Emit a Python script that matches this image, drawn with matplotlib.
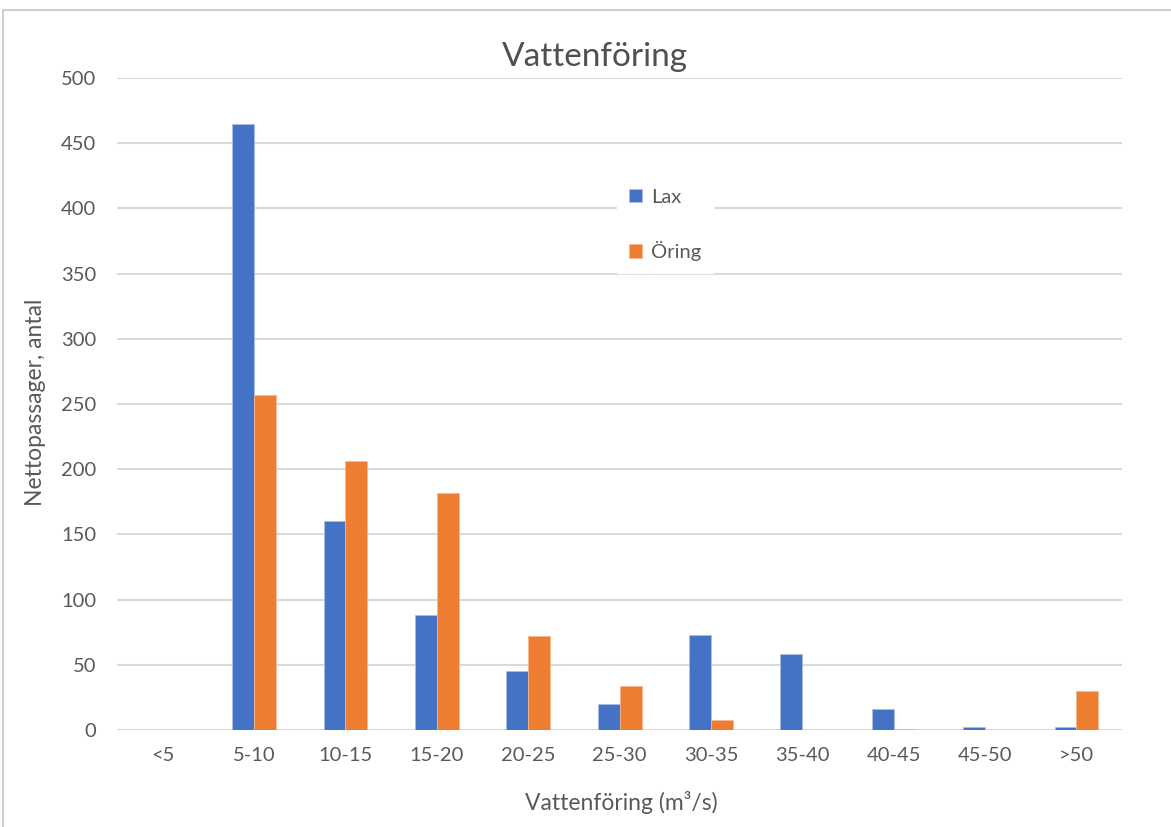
import matplotlib

matplotlib.use("Agg")

import matplotlib.pyplot as plt
import numpy as np
from matplotlib.patches import Rectangle

categories = ["<5", "5-10", "10-15", "15-20", "20-25", "25-30", "30-35", "35-40", "40-45", "45-50", ">50"]
lax = [0, 465, 160, 88, 45, 20, 73, 58, 16, 2, 2]
oring = [0, 257, 206, 182, 72, 34, 8, 0, 1, 0, 30]

BLUE = "#4472c4"
ORANGE = "#ed7d31"
GRID = "#d9d9d9"
TEXT = "#595959"

plt.rcParams["font.family"] = ["Lato", "DejaVu Sans"]

fig = plt.figure(figsize=(11.71, 8.27), dpi=100)
ax = fig.add_axes([0.0999, 0.1173, 0.8584, 0.7884])

# chart frame
fig.patches.append(Rectangle((3 / 1171, -0.01), 1.02, 1 - 10 / 827 + 0.01, transform=fig.transFigure,
                             fill=False, edgecolor="#d0d0d0", linewidth=1.5))

x = np.arange(len(categories))
w = 0.24
ax.bar(x - w / 2, lax, width=w, color=BLUE, edgecolor="#a9bfe6", linewidth=0.6, label="Lax", zorder=3)
ax.bar(x + w / 2, oring, width=w, color=ORANGE, edgecolor="#f5b891", linewidth=0.6, label="Öring", zorder=3)

ax.set_xlim(-0.5, len(categories) - 0.5)
ax.set_ylim(0, 500)
ax.set_yticks(range(0, 501, 50))
ax.set_xticks(x)
ax.set_xticklabels(categories)
ax.grid(True, axis="y", color=GRID, linewidth=1.5, zorder=0)
ax.set_axisbelow(True)
for side in ["top", "right", "left", "bottom"]:
    ax.spines[side].set_visible(False)
ax.tick_params(axis="both", length=0, labelsize=14.5, colors=TEXT)
ax.tick_params(axis="x", pad=12)
ax.tick_params(axis="y", pad=15)

fig.text(595 / 1171, 1 - 57 / 827, "Vattenföring", fontsize=24, color="#505050", ha="center", va="center")
fig.text(621 / 1171, 1 - 802 / 827, "Vattenföring (m³/s)", fontsize=16.5, color=TEXT, ha="center", va="center")
fig.text(36 / 1171, 1 - 402 / 827, "Nettopassager, antal", fontsize=16.5, color=TEXT, ha="center", va="center",
         rotation=90)

leg = ax.legend(loc="upper left", bbox_to_anchor=(0.487, 0.864), frameon=True, fontsize=14.5,
                labelcolor=TEXT, handlelength=0.65, handleheight=0.65, handletextpad=0.45,
                labelspacing=1.75, borderpad=0.6, fancybox=False)
leg.get_frame().set_edgecolor("white")
leg.get_frame().set_facecolor("white")
leg.get_frame().set_alpha(1)

fig.savefig("out.png", dpi=100)
